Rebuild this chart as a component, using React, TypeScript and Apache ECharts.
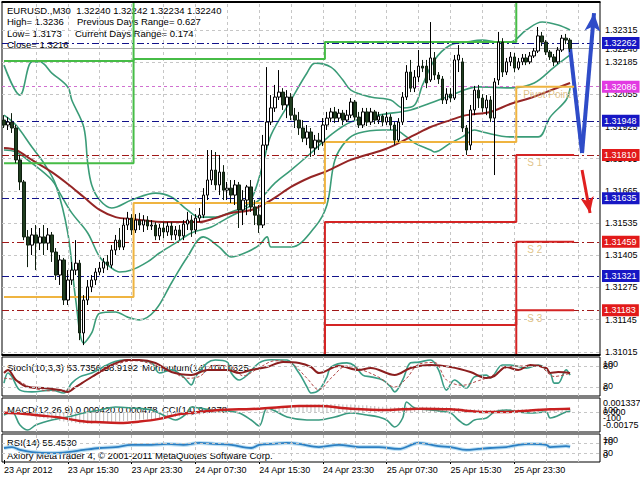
import React, { useEffect, useRef } from 'react';
import * as echarts from 'echarts';

const FONT = "'Liberation Sans', Arial, sans-serif";

const TIME_LABELS = ['23 Apr 2012', '23 Apr 15:30', '23 Apr 23:30', '24 Apr 07:30', '24 Apr 15:30', '24 Apr 23:30', '25 Apr 07:30', '25 Apr 15:30', '25 Apr 23:30'];
const LABEL_EVERY = 16;
const GRID_EVERY = 8;
const SLOT_COUNT = 150;

const Y_MIN = 1.31002;
const Y_MAX = 1.32428;

const PRICE_TICKS = [1.32315, 1.32185, 1.32055, 1.31925, 1.31795, 1.31665, 1.31535, 1.31405, 1.31275, 1.31145, 1.31015];
const BLUE_LEVELS = [1.32262, 1.31948, 1.31635, 1.31321];
const RED_LEVELS = [1.3181, 1.31459, 1.31183];
const PIVOT_LEVEL = 1.32086;
const BID = 1.3224;

// [open, close, low, high]
const CANDLES = [
  [1.31951, 1.31931, 1.31919, 1.31971], [1.31931, 1.31943, 1.31911, 1.31963], [1.31943, 1.31919, 1.31899, 1.31979],
  [1.31919, 1.3179, 1.31777, 1.31931], [1.3179, 1.31701, 1.31668, 1.3181], [1.31701, 1.31479, 1.31466, 1.31709],
  [1.31479, 1.31446, 1.31357, 1.31507], [1.31446, 1.31487, 1.31406, 1.31515], [1.31487, 1.31454, 1.31345, 1.31527],
  [1.31454, 1.31479, 1.31426, 1.31515], [1.31479, 1.31454, 1.31406, 1.31527], [1.31454, 1.31487, 1.31426, 1.31515],
  [1.31487, 1.31418, 1.31378, 1.31499], [1.31418, 1.31325, 1.31305, 1.31434], [1.31325, 1.31386, 1.31285, 1.31406],
  [1.31386, 1.31224, 1.31204, 1.31394], [1.31224, 1.31305, 1.31204, 1.31345], [1.31305, 1.31345, 1.31285, 1.31378],
  [1.31345, 1.31373, 1.31325, 1.31466], [1.31373, 1.31091, 1.31062, 1.31386], [1.31091, 1.31224, 1.31042, 1.31244],
  [1.31224, 1.31277, 1.31204, 1.31305], [1.31277, 1.31305, 1.31256, 1.31325], [1.31305, 1.31337, 1.31285, 1.31353],
  [1.31337, 1.31353, 1.31325, 1.31378], [1.31353, 1.31378, 1.31333, 1.31394], [1.31378, 1.31365, 1.31345, 1.31406],
  [1.31365, 1.31426, 1.31353, 1.31446], [1.31426, 1.31466, 1.31406, 1.31487], [1.31466, 1.31438, 1.31426, 1.31515],
  [1.31438, 1.31527, 1.31426, 1.31555], [1.31527, 1.31555, 1.31507, 1.3158], [1.31555, 1.31507, 1.31487, 1.31571],
  [1.31507, 1.31547, 1.31495, 1.31571], [1.31547, 1.31527, 1.31507, 1.31576], [1.31527, 1.31547, 1.31499, 1.31567],
  [1.31547, 1.31523, 1.31507, 1.31563], [1.31523, 1.31527, 1.31507, 1.31547], [1.31527, 1.31483, 1.31466, 1.31539],
  [1.31483, 1.31515, 1.31466, 1.31531], [1.31515, 1.31499, 1.31474, 1.31539], [1.31499, 1.31523, 1.31483, 1.31539],
  [1.31523, 1.31487, 1.31466, 1.31539], [1.31487, 1.31507, 1.31466, 1.31523], [1.31507, 1.31483, 1.31466, 1.31527],
  [1.31483, 1.31531, 1.31466, 1.31547], [1.31531, 1.31547, 1.31507, 1.3158], [1.31547, 1.31507, 1.31479, 1.31567],
  [1.31507, 1.31555, 1.31491, 1.31571], [1.31555, 1.31567, 1.31539, 1.31596], [1.31567, 1.31648, 1.31555, 1.31676],
  [1.31648, 1.31709, 1.31628, 1.3183], [1.31709, 1.31749, 1.31689, 1.3183], [1.31749, 1.31689, 1.31668, 1.31822],
  [1.31689, 1.31741, 1.31648, 1.3181], [1.31741, 1.31668, 1.31628, 1.31769], [1.31668, 1.31676, 1.31628, 1.31701],
  [1.31676, 1.31648, 1.31616, 1.31709], [1.31648, 1.31689, 1.31608, 1.31709], [1.31689, 1.31588, 1.31515, 1.31701],
  [1.31588, 1.31628, 1.31527, 1.31668], [1.31628, 1.31681, 1.31567, 1.31689], [1.31681, 1.316, 1.3158, 1.31709],
  [1.316, 1.31567, 1.31527, 1.31628], [1.31567, 1.31527, 1.31495, 1.31608], [1.31527, 1.3185, 1.31515, 1.31891],
  [1.3185, 1.31943, 1.3183, 1.32165], [1.31943, 1.32, 1.31931, 1.32052], [1.32, 1.32044, 1.31984, 1.32093],
  [1.32044, 1.32064, 1.32032, 1.32153], [1.32064, 1.32012, 1.31992, 1.3208], [1.32012, 1.32044, 1.31959, 1.32072],
  [1.32044, 1.31971, 1.31951, 1.3206], [1.31971, 1.31951, 1.31919, 1.32], [1.31951, 1.31919, 1.31891, 1.31984],
  [1.31919, 1.31878, 1.31862, 1.31951], [1.31878, 1.31903, 1.3185, 1.31931], [1.31903, 1.31838, 1.31802, 1.31919],
  [1.31838, 1.3187, 1.3181, 1.31891], [1.3187, 1.31862, 1.3183, 1.31899], [1.31862, 1.31931, 1.31846, 1.31959],
  [1.31931, 1.31959, 1.31911, 1.31984], [1.31959, 1.31984, 1.31943, 1.32], [1.31984, 1.31959, 1.31939, 1.32004],
  [1.31959, 1.31979, 1.31943, 1.31996], [1.31979, 1.31951, 1.31931, 1.31992], [1.31951, 1.31971, 1.31943, 1.31992],
  [1.31971, 1.32024, 1.31959, 1.3204], [1.32024, 1.31963, 1.31951, 1.32032], [1.31963, 1.31931, 1.31919, 1.31984],
  [1.31931, 1.31984, 1.31919, 1.32], [1.31984, 1.31943, 1.31927, 1.32], [1.31943, 1.31984, 1.31931, 1.32],
  [1.31984, 1.31951, 1.31935, 1.31992], [1.31951, 1.31967, 1.31935, 1.31984], [1.31967, 1.31943, 1.31927, 1.31975],
  [1.31943, 1.31963, 1.31931, 1.31984], [1.31963, 1.31931, 1.31911, 1.31975], [1.31931, 1.3187, 1.3185, 1.31943],
  [1.3187, 1.31943, 1.31862, 1.31959], [1.31943, 1.32044, 1.31931, 1.32064], [1.32044, 1.32145, 1.32032, 1.32173],
  [1.32145, 1.3208, 1.32064, 1.32194], [1.3208, 1.32125, 1.32064, 1.32153], [1.32125, 1.32169, 1.32105, 1.32234],
  [1.32169, 1.32161, 1.32145, 1.32194], [1.32169, 1.32101, 1.3208, 1.32194], [1.32113, 1.32202, 1.32105, 1.32347],
  [1.32202, 1.32133, 1.32113, 1.32226], [1.32133, 1.32117, 1.32097, 1.32145], [1.32117, 1.32032, 1.32016, 1.32129],
  [1.32032, 1.32056, 1.32016, 1.3208], [1.32056, 1.3204, 1.32024, 1.3208], [1.3204, 1.32194, 1.32032, 1.32214],
  [1.32194, 1.32214, 1.32145, 1.32254], [1.32186, 1.31919, 1.31903, 1.32202], [1.31919, 1.3183, 1.3181, 1.31931],
  [1.3185, 1.31992, 1.3183, 1.32012], [1.31992, 1.32072, 1.31971, 1.32089], [1.32072, 1.3204, 1.32, 1.32093],
  [1.3204, 1.32, 1.31984, 1.32056], [1.32, 1.32032, 1.31971, 1.32052], [1.32032, 1.31959, 1.31943, 1.32048],
  [1.31959, 1.32105, 1.31729, 1.32121], [1.32113, 1.32266, 1.32093, 1.32307], [1.32266, 1.32145, 1.32125, 1.32282],
  [1.32145, 1.32186, 1.32133, 1.32202], [1.32186, 1.32206, 1.32169, 1.32226], [1.32206, 1.32161, 1.32145, 1.32222],
  [1.32161, 1.32186, 1.32153, 1.32202], [1.32186, 1.32202, 1.32173, 1.32218], [1.32202, 1.32186, 1.32173, 1.32218],
  [1.32186, 1.3221, 1.32177, 1.32226], [1.3221, 1.3223, 1.32202, 1.32242], [1.3223, 1.32291, 1.32222, 1.32327],
  [1.32291, 1.32266, 1.3225, 1.32307], [1.32266, 1.32226, 1.32214, 1.32274], [1.32226, 1.32206, 1.32194, 1.32234],
  [1.32206, 1.32186, 1.32169, 1.32218], [1.32186, 1.32234, 1.32177, 1.32246], [1.32234, 1.32282, 1.32226, 1.32295],
  [1.32282, 1.32274, 1.32258, 1.32299], [1.32274, 1.3224, 1.32226, 1.32282],
];

// [bar, price] points
const MA_LINE = [[0, 1.31838], [3, 1.3183], [7, 1.3179], [12, 1.31741], [16, 1.31693], [20, 1.3164], [24, 1.31588], [28, 1.31559], [32, 1.31551], [41, 1.31539], [49, 1.31539], [53, 1.31555], [57, 1.31576], [62, 1.31588], [67, 1.31628], [72, 1.31681], [77, 1.31721], [81, 1.31745], [87, 1.3179], [95, 1.3183], [99, 1.31858], [103, 1.31891], [107, 1.31923], [112, 1.31951], [116, 1.31971], [122, 1.31984], [127, 1.32016], [132, 1.3204], [136, 1.32064], [142, 1.32101]];
const BB_UPPER = [[0, 1.32173], [4, 1.32052], [7, 1.32186], [9, 1.32186], [12, 1.32141], [16, 1.32085], [17, 1.32032], [20, 1.31923], [21, 1.31777], [22, 1.31689], [24, 1.31628], [27, 1.31596], [32, 1.31628], [38, 1.31656], [42, 1.3164], [46, 1.31588], [49, 1.31559], [53, 1.31559], [57, 1.3158], [61, 1.31608], [63, 1.31668], [65, 1.31777], [67, 1.31891], [72, 1.32032], [76, 1.32141], [78, 1.32181], [82, 1.32165], [85, 1.32113], [87, 1.32072], [92, 1.32044], [97, 1.32032], [100, 1.32], [103, 1.32012], [105, 1.32093], [108, 1.32194], [112, 1.32254], [116, 1.32266], [120, 1.32274], [124, 1.32266], [127, 1.32266], [131, 1.32315], [135, 1.32347], [139, 1.32335], [142, 1.32315]];
const BB_MIDDLE = [[0, 1.3183], [3, 1.31822], [7, 1.31777], [12, 1.31709], [14, 1.31656], [17, 1.31576], [21, 1.31495], [24, 1.31398], [27, 1.31353], [29, 1.31337], [32, 1.31345], [36, 1.31378], [39, 1.31414], [43, 1.31454], [47, 1.31495], [52, 1.31519], [56, 1.31555], [60, 1.31588], [64, 1.31628], [68, 1.31697], [72, 1.31749], [77, 1.31818], [82, 1.31891], [87, 1.31943], [94, 1.31971], [102, 1.31992], [107, 1.3202], [111, 1.32044], [119, 1.32085], [127, 1.32081], [133, 1.32101], [138, 1.32165], [142, 1.32214]];
const BB_LOWER = [[0, 1.31971], [3, 1.31931], [7, 1.31842], [10, 1.31777], [13, 1.31689], [16, 1.31495], [18, 1.31224], [20, 1.3105], [22, 1.31091], [24, 1.31171], [28, 1.31176], [31, 1.31155], [34, 1.31144], [38, 1.31184], [42, 1.31293], [46, 1.31398], [50, 1.31479], [54, 1.31438], [57, 1.31398], [61, 1.31418], [64, 1.31446], [66, 1.31479], [67, 1.31438], [72, 1.31438], [78, 1.31519], [81, 1.31608], [83, 1.3179], [86, 1.3187], [89, 1.31899], [95, 1.31911], [98, 1.31911], [101, 1.31883], [103, 1.31858], [107, 1.3183], [108, 1.31822], [112, 1.31858], [115, 1.31883], [118, 1.31911], [120, 1.31903], [127, 1.31883], [134, 1.31883], [137, 1.31963], [141, 1.32032], [142, 1.3208]];

// daily pivot levels, one value per day; null = level lies outside the visible price range
const DAY_BARS = [[0, 32], [33, 80], [81, 128], [129, 143]];
const R1 = [1.31777, 1.32198, 1.32266, null];
const R2 = [1.3219, null, null, null];
const PP = [1.31236, 1.31616, 1.31862, 1.32086];
const S1 = [null, null, 1.31539, 1.3181];
const S2 = [null, null, 1.31123, 1.31459];
const S3 = [null, null, null, 1.31183];
const PIVOT_TAGS = [
  { bar: 130, price: 1.32086, text: 'Pivot Point' },
  { bar: 131, price: 1.3181, text: 'S 1' },
  { bar: 131, price: 1.31459, text: 'S 2' },
  { bar: 131, price: 1.31183, text: 'S 3' },
];

const BLUE_PROJ = [[142, 1.3224], [145, 1.31818], [148, 1.32383]];
const RED_PROJ = [[145, 1.31749], [147, 1.31576]];

const STOCH_MAIN = [[0, 31], [1, 60], [2, 49], [4, 11], [7, 6], [12, 11], [15, 3], [17, 31], [19, 49], [22, 60], [27, 89], [30, 97], [32, 97], [37, 89], [39, 60], [42, 69], [45, 49], [47, 26], [48, 49], [51, 89], [53, 97], [56, 91], [57, 60], [59, 40], [61, 54], [64, 89], [67, 98], [71, 97], [74, 60], [76, 20], [77, 3], [79, 11], [81, 49], [82, 77], [86, 89], [88, 80], [90, 54], [92, 49], [95, 40], [97, 20], [98, 6], [100, 40], [102, 89], [104, 91], [107, 97], [109, 69], [111, 11], [113, 40], [116, 17], [118, 49], [121, 54], [122, 46], [125, 83], [127, 83], [131, 74], [134, 83], [137, 60], [138, 31], [139, 31], [141, 69], [142, 54]];
const STOCH_SIGNAL = [[0, 45], [3, 40], [7, 18], [12, 9], [16, 12], [20, 35], [24, 60], [29, 88], [33, 95], [38, 82], [42, 65], [46, 45], [49, 50], [53, 82], [57, 78], [60, 52], [64, 75], [68, 95], [72, 88], [76, 45], [79, 12], [82, 45], [86, 80], [90, 68], [94, 48], [98, 20], [101, 45], [104, 85], [108, 90], [111, 40], [115, 25], [119, 38], [122, 50], [126, 75], [130, 80], [134, 80], [138, 50], [142, 59]];
const MOMENTUM = [[0, 100.03], [1, 100.06], [3, 99.96], [6, 99.89], [10, 99.88], [14, 99.86], [16, 99.84], [18, 99.89], [22, 99.99], [27, 100.11], [31, 100.16], [34, 100.16], [38, 100.13], [42, 100.04], [47, 100.01], [51, 100.06], [56, 100.06], [59, 100.03], [62, 100.06], [66, 100.09], [70, 100.14], [74, 100.13], [77, 100.09], [79, 100.03], [84, 100.1], [89, 100.06], [92, 100.08], [98, 100.01], [102, 100.08], [107, 100.11], [112, 100.09], [117, 100.04], [121, 99.98], [123, 100.0], [126, 100.09], [129, 100.06], [132, 100.11], [136, 100.08], [137, 100.03], [139, 100.04], [142, 100.03]];

const MACD_HIST = [
  0.0001, 0.00005, 0, -0.0001, -0.0002, -0.0004, -0.0005, -0.0006, -0.0007, -0.0008,
  -0.0009, -0.001, -0.0011, -0.0012, -0.0013, -0.0014, -0.0015, -0.0015, -0.0016, -0.0017,
  -0.0017, -0.0017, -0.0017, -0.0016, -0.0016, -0.0016, -0.0015, -0.0015, -0.0014, -0.0014,
  -0.0013, -0.0013, -0.0012, -0.0012, -0.0011, -0.0011, -0.0011, -0.001, -0.001, -0.0009,
  -0.0008, -0.0008, -0.0007, -0.0007, -0.0006, -0.0006, -0.0005, -0.0005, -0.0004, -0.0004,
  -0.0003, -0.0002, -0.0001, -0.0001, 0, 0, 0.0001, 0.0001, 0.0001, 0,
  0, 0.0001, 0.0001, 0, 0, 0.0002, 0.0003, 0.0004, 0.0005, 0.0006,
  0.0007, 0.0008, 0.0009, 0.0009, 0.001, 0.001, 0.0011, 0.0011, 0.0011, 0.0011,
  0.0012, 0.0012, 0.0012, 0.0012, 0.0012, 0.0011, 0.0011, 0.0011, 0.0011, 0.001,
  0.001, 0.001, 0.0009, 0.0009, 0.0008, 0.0008, 0.0008, 0.0007, 0.0007, 0.0007,
  0.0007, 0.0008, 0.0008, 0.0008, 0.0008, 0.0008, 0.0008, 0.0008, 0.0008, 0.0007,
  0.0007, 0.0007, 0.0007, 0.0006, 0.0006, 0.0005, 0.0004, 0.0004, 0.0004, 0.0004,
  0.0003, 0.0003, 0.0003, 0.0003, 0.0004, 0.0004, 0.0004, 0.0004, 0.0004, 0.0004,
  0.0004, 0.0004, 0.0004, 0.0004, 0.0005, 0.0005, 0.0005, 0.0005, 0.0005, 0.0004,
  0.00045, 0.00044, 0.00042,
];
const MACD_SIGNAL = [[0, -0.0001], [4, -0.0002], [9, -0.0005], [14, -0.0008], [19, -0.0013], [24, -0.0015], [29, -0.0016], [34, -0.0014], [39, -0.001], [44, -0.0003], [49, 0], [54, 0.0003], [59, 0.0004], [64, 0.0005], [69, 0.0007], [74, 0.0009], [79, 0.0009], [87, 0.0005], [96, 0.0003], [104, 0.0005], [112, 0.0004], [121, 0], [126, 0], [131, 0.0002], [137, 0.0004], [142, 0.00048]];
const CCI = [[0, -45], [2, 0], [4, -195], [6, -270], [8, -195], [12, -120], [16, -75], [20, -15], [24, 30], [28, 75], [32, 60], [37, 30], [41, -75], [43, -120], [46, -15], [47, 75], [49, 60], [52, 30], [56, 15], [59, -15], [62, -120], [64, -210], [66, 60], [68, 15], [71, -75], [76, -120], [79, -120], [83, -75], [87, -15], [91, -45], [94, -75], [96, -120], [98, -225], [100, -90], [101, 150], [103, 60], [107, 30], [112, -15], [114, -120], [116, -195], [118, -120], [121, -90], [123, 0], [126, 30], [129, 0], [132, -15], [136, 0], [137, -90], [141, 0], [142, 9]];
const RSI = [[0, 50], [2, 54], [4, 42], [7, 33], [12, 29], [16, 33], [20, 42], [24, 50], [28, 54], [32, 63], [37, 63], [41, 67], [45, 63], [49, 71], [53, 67], [57, 63], [62, 50], [64, 63], [67, 67], [71, 71], [74, 67], [79, 54], [84, 63], [89, 54], [94, 54], [99, 46], [104, 71], [109, 58], [112, 54], [116, 42], [119, 46], [122, 50], [126, 54], [129, 63], [132, 67], [136, 63], [137, 54], [141, 58], [142, 55.45]];

const CATEGORIES = Array.from({ length: SLOT_COUNT }, (_, i) => String(i));
const VGRID: number[] = [];
for (let i = GRID_EVERY; i < SLOT_COUNT; i += GRID_EVERY) VGRID.push(i);

const GRID_LINE = { color: '#c6c6c6', type: [3, 3] as number[], width: 1 };

// step line through the daily levels; where a level leaves the visible range the line runs to the pane edge and stops
function steps(levels: (number | null)[], edge: number) {
  const out: number[][] = [];
  let ended = false;
  DAY_BARS.forEach(([s, e], d) => {
    if (ended) return;
    const v = levels[d];
    const prev = d > 0 ? levels[d - 1] : null;
    if (v == null) {
      if (prev != null) {
        out.push([s, edge]);
        ended = true;
      }
      return;
    }
    if (d > 0 && prev == null) out.push([s - 1, edge]);
    out.push([s, v]);
    out.push([e, v]);
  });
  return out;
}

function vgridLines() {
  return VGRID.map((i) => ({ xAxis: i }));
}

function txt(text: string, x: number, y: number, size = 9.5, fill = '#000') {
  return {
    type: 'text', x, y, silent: true,
    style: { text, fill, fontSize: size, fontFamily: FONT, verticalAlign: 'middle', align: 'left' },
  };
}

function lvlLabel(v: number, bg: string) {
  return {
    show: true, position: 'end', formatter: v.toFixed(5), color: '#fff', backgroundColor: bg,
    padding: [2, 3, 1, 2], fontSize: 9, fontFamily: FONT, distance: 2,
  };
}

function buildOption() {
  const dash = [7, 3, 2, 3];
  const tickFn = (i: number) => i % LABEL_EVERY === 0 && i / LABEL_EVERY < TIME_LABELS.length;
  const grids = [
    { left: 2, top: 2, width: 598, height: 353 },
    { left: 2, top: 357, width: 598, height: 39 },
    { left: 2, top: 398, width: 598, height: 34 },
    { left: 2, top: 434, width: 598, height: 28 },
  ].map((g) => ({ ...g, show: true, borderColor: '#000', borderWidth: 1, backgroundColor: '#fff' }));

  const xAxis = [0, 1, 2, 3].map((k) => ({
    type: 'category', gridIndex: k, data: CATEGORIES, boundaryGap: true,
    show: k === 3,
    axisLine: { show: false },
    splitLine: { show: false },
    axisTick: { show: k === 3, alignWithLabel: true, interval: tickFn, length: 4, lineStyle: { color: '#000' } },
    axisLabel: {
      show: k === 3, interval: tickFn, align: 'left', fontSize: 9, fontFamily: FONT, color: '#000', margin: 3,
      formatter: (_v: string, i: number) => TIME_LABELS[i / LABEL_EVERY] || '',
    },
  }));

  const yAxis = [
    { gridIndex: 0, min: Y_MIN, max: Y_MAX },
    { gridIndex: 1, min: -5.7, max: 105.7 },
    { gridIndex: 1, min: 99.8, max: 100.19 },
    { gridIndex: 2, min: -0.00293, max: 0.00207 },
    { gridIndex: 2, min: -300, max: 210 },
    { gridIndex: 3, min: -8.3, max: 108.3 },
  ].map((a) => ({ ...a, type: 'value', show: false, splitLine: { show: false } }));

  const line = (data: any[], color: string, width: number, xi: number, yi: number, z: number, extra: any = {}) => ({
    type: 'line', data, xAxisIndex: xi, yAxisIndex: yi, symbol: 'none', silent: true, z,
    smooth: 0.35, lineStyle: { color, width }, ...extra,
  });
  const stepLine = (levels: (number | null)[], edge: number, color: string) =>
    line(steps(levels, edge), color, 2, 0, 0, 6, { smooth: false, step: 'middle' });

  const series: any[] = [
    {
      type: 'line', data: [[0, 1.2]], symbol: 'none', silent: true, z: 1, lineStyle: { opacity: 0 },
      markLine: {
        silent: true, symbol: 'none', animation: false, precision: 5, lineStyle: GRID_LINE, label: { show: false },
        data: [
          ...PRICE_TICKS.map((v) => ({
            yAxis: v,
            label: { show: true, position: 'end', formatter: v.toFixed(5), color: '#000', fontSize: 9, fontFamily: FONT, distance: 5 },
          })),
          ...vgridLines(),
          {
            yAxis: BID, lineStyle: { color: '#a8a8a8', type: 'solid', width: 1 },
            label: { show: true, position: 'end', formatter: BID.toFixed(5), color: '#000', fontSize: 9, fontFamily: FONT, distance: 5 },
          },
        ],
      },
    },
    {
      type: 'line', data: [[0, 1.2]], symbol: 'none', silent: true, z: 3, lineStyle: { opacity: 0 },
      markLine: {
        silent: true, symbol: 'none', animation: false, precision: 5, label: { show: false },
        data: [
          { yAxis: PIVOT_LEVEL, lineStyle: { color: '#d070d0', type: [3, 3], width: 1 }, label: lvlLabel(PIVOT_LEVEL, '#e23ae2') },
          ...RED_LEVELS.map((v) => ({ yAxis: v, lineStyle: { color: '#a01818', type: dash, width: 1 }, label: lvlLabel(v, '#e21a1a') })),
          ...BLUE_LEVELS.map((v) => ({ yAxis: v, lineStyle: { color: '#12128a', type: dash, width: 1 }, label: lvlLabel(v, '#1717c4') })),
        ],
      },
    },
    line(BB_UPPER, '#3b9c78', 1.6, 0, 0, 4),
    line(BB_MIDDLE, '#3b9c78', 1.6, 0, 0, 4),
    line(BB_LOWER, '#3b9c78', 1.6, 0, 0, 4),
    line(MA_LINE, '#952525', 2, 0, 0, 5),
    stepLine(R1, Y_MAX, '#46bc46'),
    stepLine(R2, Y_MAX, '#46bc46'),
    stepLine(PP, Y_MIN, '#efb440'),
    stepLine(S1, Y_MIN, '#d42424'),
    stepLine(S2, Y_MIN, '#d42424'),
    stepLine(S3, Y_MIN, '#d42424'),
    {
      type: 'scatter', data: PIVOT_TAGS.map((t) => ({ value: [t.bar, t.price], label: { formatter: t.text } })),
      symbolSize: 0, silent: true, z: 7,
      label: { show: true, position: [1, 3], color: '#d9b56c', fontSize: 10, fontFamily: FONT },
    },
    {
      type: 'candlestick', data: CANDLES, barWidth: 3, silent: true, z: 8,
      itemStyle: { color: '#ffffff', color0: '#1f3d1f', borderColor: '#000', borderColor0: '#0f1f0f', borderWidth: 1 },
    },
    {
      type: 'line', data: [[0, 1.2]], symbol: 'none', silent: true, z: 9, lineStyle: { opacity: 0 },
      markLine: {
        silent: true, animation: false, symbol: ['none', 'none'], label: { show: false },
        data: [
          [{ coord: BLUE_PROJ[0], symbol: 'none' }, { coord: BLUE_PROJ[1], symbol: 'none', lineStyle: { color: '#2f4cc8', width: 4, type: 'solid' } }],
          [{ coord: BLUE_PROJ[1], symbol: 'none' }, { coord: BLUE_PROJ[2], symbol: 'arrow', symbolSize: [12, 18], lineStyle: { color: '#2f4cc8', width: 4, type: 'solid' } }],
          [{ coord: RED_PROJ[0], symbol: 'none' }, { coord: RED_PROJ[1], symbol: 'arrow', symbolSize: [10, 16], lineStyle: { color: '#e02020', width: 3, type: 'solid' } }],
        ],
      },
    },
    // Stochastic + Momentum
    line(STOCH_MAIN, '#3a9e86', 1.6, 1, 1, 3, {
      markLine: {
        silent: true, symbol: 'none', animation: false, lineStyle: GRID_LINE, label: { show: false },
        data: [...vgridLines(), { yAxis: 80 }, { yAxis: 20 }],
      },
    }),
    line(STOCH_SIGNAL, '#b04848', 1, 1, 1, 3, { lineStyle: { color: '#b04848', width: 1, type: [3, 2] } }),
    line(MOMENTUM, '#8c1f1f', 2, 1, 2, 4),
    // MACD + CCI
    {
      type: 'bar', data: MACD_HIST, xAxisIndex: 2, yAxisIndex: 3, barWidth: 1, silent: true, z: 2,
      itemStyle: { color: '#b9b9b9' },
      markLine: {
        silent: true, symbol: 'none', animation: false, lineStyle: GRID_LINE, label: { show: false },
        data: [...vgridLines(), { yAxis: 0 }],
      },
    },
    line(CCI, '#3a9a80', 1.6, 2, 4, 3),
    line(MACD_SIGNAL, '#c82020', 2.5, 2, 3, 4),
    // RSI
    line(RSI, '#bde0f4', 4, 3, 5, 3, {
      markLine: {
        silent: true, symbol: 'none', animation: false, lineStyle: GRID_LINE, label: { show: false },
        data: [...vgridLines(), { yAxis: 70 }, { yAxis: 30 }],
      },
    }),
    line(RSI, '#2c7fc2', 1.8, 3, 5, 4),
  ];

  const frameEdge = (y: number) => ({
    type: 'line', silent: true, z: 100,
    shape: { x1: 1.5, y1: y, x2: 600.5, y2: y },
    style: { stroke: '#000', lineWidth: 2 },
  });

  const graphic = [
    frameEdge(2), frameEdge(355),
    txt('EURUSD.,M30  1.32240 1.32242 1.32234 1.32240', 7, 10),
    txt('High= 1.3236', 7, 21), txt('Previous Days Range= 0.627', 77, 21),
    txt('Low= 1.3173', 7, 33), txt('Current Days Range= 0.174', 75, 33),
    txt('Close= 1.3216', 7, 44),
    txt('Stoch(10,3,3) 53.7356 58.9192', 7, 367), txt('Momentum(14) 100.0325', 142, 367),
    txt('MACD(12,26,9) 0.000420 0.000478', 7, 409), txt('CCI(14) 9.4278', 162, 409),
    txt('RSI(14) 55.4530', 7, 442),
    txt('Axiory MetaTrader 4, \u00a9 2001-2011 MetaQuotes Software Corp.', 7, 455),
    txt('100', 603, 364, 9), txt('80', 603, 366, 9), txt('20', 603, 386, 9), txt('0', 603, 388, 9),
    txt('0.001337', 603, 403, 9), txt('100', 603, 410, 9), txt('0.000', 603, 412, 9),
    txt('-100', 603, 418, 9), txt('-0.00175', 603, 425, 9),
    txt('100', 603, 440, 9), txt('70', 603, 442, 9), txt('30', 603, 453, 9), txt('0', 603, 455, 9),
  ];

  return {
    animation: false,
    backgroundColor: '#ffffff',
    textStyle: { fontFamily: FONT },
    grid: grids,
    xAxis,
    yAxis,
    series,
    graphic,
  };
}

export default function App() {
  const ref = useRef<HTMLDivElement>(null);
  useEffect(() => {
    if (!ref.current) return;
    const chart = echarts.init(ref.current, null, { renderer: 'svg', width: 640, height: 480 });
    chart.setOption(buildOption() as any);
    return () => chart.dispose();
  }, []);
  return <div ref={ref} style={{ position: 'fixed', left: 0, top: 0, width: 640, height: 480, background: '#fff' }} />;
}
